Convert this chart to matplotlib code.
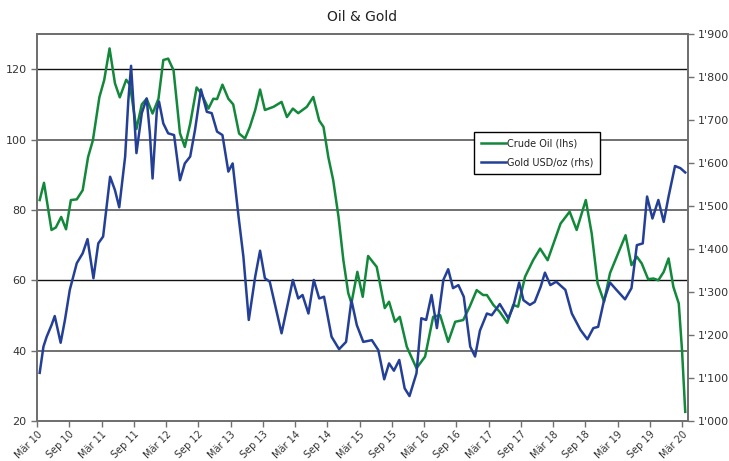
import matplotlib
matplotlib.use("Agg")
import matplotlib.pyplot as plt
from matplotlib.lines import Line2D

# ---- data (x = months since March 2010) ----
oil_months = [0.5, 1.3, 2.7, 3.5, 4.5, 5.4, 6.3, 7.4, 8.5, 9.5, 10.4, 11.6, 12.5, 13.5, 14.5, 15.4,
              16.6, 17.3, 18.5, 19.5, 20.4, 21.5, 22.6, 23.5, 24.4, 25.4, 26.6, 27.5, 28.5, 29.7,
              30.6, 31.9, 32.8, 33.5, 34.5, 35.6, 36.5, 37.6, 38.7, 39.6, 40.6, 41.5, 42.4, 44.0,
              45.5, 46.5, 47.6, 48.6, 50.2, 51.4, 52.5, 53.3, 54.2, 55.1, 56.1, 57.0, 57.9, 58.5,
              59.6, 60.6, 61.6, 63.2, 64.7, 65.5, 66.6, 67.5, 68.8, 70.6, 72.2, 73.7, 75.0, 76.5,
              77.8, 79.3, 80.5, 81.8, 83.0, 83.7, 84.9, 86.1, 87.5, 88.6, 89.5, 90.8, 92.3, 93.6,
              95.0, 97.4, 99.1, 100.4, 102.1, 103.2, 104.3, 105.5, 106.6, 108.1, 109.5, 110.6,
              111.6, 112.5, 113.7, 114.7, 115.6, 116.6, 117.5, 118.4, 119.4, 120.0, 120.6]
oil_values = [82.8, 87.7, 74.3, 75.0, 78.0, 74.5, 82.8, 83.0, 85.6, 95.0, 99.8, 112.0, 116.9, 125.9,
              116.0, 112.0, 117.0, 115.5, 103.0, 110.0, 111.6, 107.4, 111.6, 122.6, 123.0, 119.7,
              101.8, 97.9, 104.5, 114.8, 113.0, 108.8, 111.6, 111.5, 115.6, 111.6, 110.0, 101.7,
              100.3, 103.6, 108.4, 114.2, 108.4, 109.3, 110.7, 106.4, 108.8, 107.5, 109.3, 112.1,
              105.4, 103.6, 95.0, 88.5, 78.0, 65.7, 56.4, 53.5, 62.4, 55.3, 66.9, 63.8, 52.1, 53.9,
              48.2, 49.6, 41.1, 35.0, 38.3, 49.6, 50.1, 42.5, 48.2, 48.7, 52.5, 57.2, 55.8, 55.8,
              53.0, 51.0, 47.9, 53.0, 52.5, 61.0, 65.7, 69.0, 65.7, 76.1, 79.5, 74.3, 82.8, 73.3,
              59.1, 53.9, 62.0, 67.6, 72.8, 64.3, 66.7, 64.8, 60.3, 60.5, 60.0, 62.4, 66.2, 58.1,
              53.4, 40.2, 22.6]

gold_months = [0.5, 1.2, 1.8, 2.7, 3.3, 4.4, 5.2, 6.1, 7.4, 8.5, 9.4, 10.5, 11.4, 12.3, 13.6, 14.5,
               15.3, 16.4, 17.0, 17.5, 17.9, 18.5, 19.5, 20.4, 21.0, 21.5, 22.3, 22.7, 23.5, 24.4,
               25.5, 26.6, 27.5, 28.5, 29.4, 30.5, 31.6, 32.5, 33.5, 34.5, 35.6, 36.4, 37.5, 38.4,
               39.4, 40.6, 41.5, 42.4, 43.3, 45.5, 47.6, 48.6, 49.4, 50.5, 51.5, 52.5, 53.4, 54.8,
               56.2, 57.5, 58.5, 59.5, 60.7, 62.3, 63.5, 64.6, 65.5, 66.4, 67.4, 68.4, 69.3, 70.6,
               71.5, 72.4, 73.4, 74.4, 75.6, 76.5, 77.4, 78.4, 79.4, 80.6, 81.5, 82.4, 83.7, 84.6,
               86.1, 87.7, 88.6, 89.7, 90.5, 91.7, 92.6, 93.7, 94.5, 95.5, 96.6, 98.3, 99.5, 101.1,
               102.4, 103.5, 104.4, 105.5, 106.6, 107.8, 109.4, 110.6, 111.6, 112.7, 113.5, 114.5,
               115.6, 116.6, 117.5, 118.7, 119.7, 120.6]
gold_values = [1112, 1173, 1196, 1223, 1244, 1182, 1235, 1305, 1367, 1390, 1423, 1332, 1413, 1429,
               1568, 1537, 1497, 1615, 1747, 1826, 1747, 1623, 1716, 1750, 1669, 1564, 1723, 1743,
               1692, 1669, 1665, 1560, 1599, 1615, 1677, 1771, 1719, 1716, 1673, 1665, 1580, 1599,
               1475, 1382, 1235, 1336, 1396, 1332, 1324, 1204, 1328, 1285, 1293, 1250, 1328, 1285,
               1289, 1196, 1167, 1184, 1281, 1223, 1184, 1188, 1165, 1097, 1134, 1117, 1142, 1076,
               1058, 1111, 1239, 1235, 1293, 1216, 1328, 1353, 1309, 1316, 1289, 1173, 1150, 1210,
               1250, 1246, 1272, 1239, 1266, 1322, 1281, 1270, 1277, 1312, 1345, 1316, 1324, 1305,
               1250, 1212, 1190, 1216, 1219, 1281, 1322, 1305, 1283, 1309, 1409, 1413, 1522, 1471,
               1514, 1463, 1522, 1593, 1588, 1578]

tick_months = list(range(0, 121, 6))
tick_labels = ["Mär 10", "Sep 10", "Mär 11", "Sep 11", "Mär 12", "Sep 12", "Mär 13", "Sep 13",
               "Mär 14", "Sep 14", "Mär 15", "Sep 15", "Mär 16", "Sep 16", "Mär 17", "Sep 17",
               "Mär 18", "Sep 18", "Mär 19", "Sep 19", "Mär 20"]
left_ticks = [20, 40, 60, 80, 100, 120]
right_ticks = [1000, 1100, 1200, 1300, 1400, 1500, 1600, 1700, 1800, 1900]
right_labels = ["1'000", "1'100", "1'200", "1'300", "1'400", "1'500", "1'600", "1'700", "1'800", "1'900"]

GREEN = "#12883a"
BLUE = "#243f97"
FONT = ["Liberation Sans Narrow", "DejaVu Sans"]
plt.rcParams["font.family"] = FONT

fig = plt.figure(figsize=(7.29, 4.61), dpi=100)
ax = fig.add_axes([37 / 729, 1 - 421 / 461, (687.7 - 37) / 729, (421 - 34) / 461])
ax2 = ax.twinx()

ax.set_xlim(0, 121.06)
ax.set_ylim(20, 130)
ax2.set_ylim(1000, 1900)

# grid lines
grid_styles = {40: ("#707070", 1.4), 60: ("#111111", 1.0), 80: ("#707070", 1.4),
               100: ("#707070", 1.4), 120: ("#111111", 1.0)}
for v in left_ticks[1:]:
    c, w = grid_styles[v]
    ax.axhline(v, color=c, lw=w, zorder=1)

ax.plot(oil_months, oil_values, color=GREEN, lw=1.8, zorder=3, solid_joinstyle="round")
ax2.plot(gold_months, gold_values, color=BLUE, lw=1.8, zorder=3, solid_joinstyle="round")

for a in (ax, ax2):
    for s in a.spines.values():
        s.set_color("#707070")
        s.set_linewidth(1.4)

ax.set_yticks(left_ticks)
ax.set_yticklabels([str(v) for v in left_ticks])
ax2.set_yticks(right_ticks)
ax2.set_yticklabels(right_labels)
ax.set_xticks(tick_months)
ax.set_xticklabels(tick_labels, rotation=45, ha="right", rotation_mode="anchor")

ax.tick_params(axis="both", colors="#707070", labelcolor="#333333", labelsize=8, length=4, width=1)
ax.tick_params(axis="x", pad=2, labelsize=7)
ax2.tick_params(axis="y", colors="#707070", labelcolor="#333333", labelsize=8, length=4, width=1)

fig.text((37 + 687.7) / 2 / 729, 1 - 17 / 461, "Oil & Gold", ha="center", va="center",
         fontsize=10, color="#222222")

handles = [Line2D([], [], color=GREEN, lw=1.8), Line2D([], [], color=BLUE, lw=1.8)]
leg = ax2.legend(handles, ["Crude Oil (lhs)", "Gold USD/oz (rhs)"],
                 loc="upper left", bbox_to_anchor=(474 / 729, 1 - 131.7 / 461),
                 bbox_transform=fig.transFigure, fontsize=7, frameon=True, fancybox=False,
                 edgecolor="black", framealpha=1, handlelength=2.6, handletextpad=0.1,
                 borderpad=0.7, labelspacing=0.9, borderaxespad=0)
leg.get_frame().set_linewidth(1.0)
for t in leg.get_texts():
    t.set_color("#222222")

fig.savefig("out.png", dpi=100)
